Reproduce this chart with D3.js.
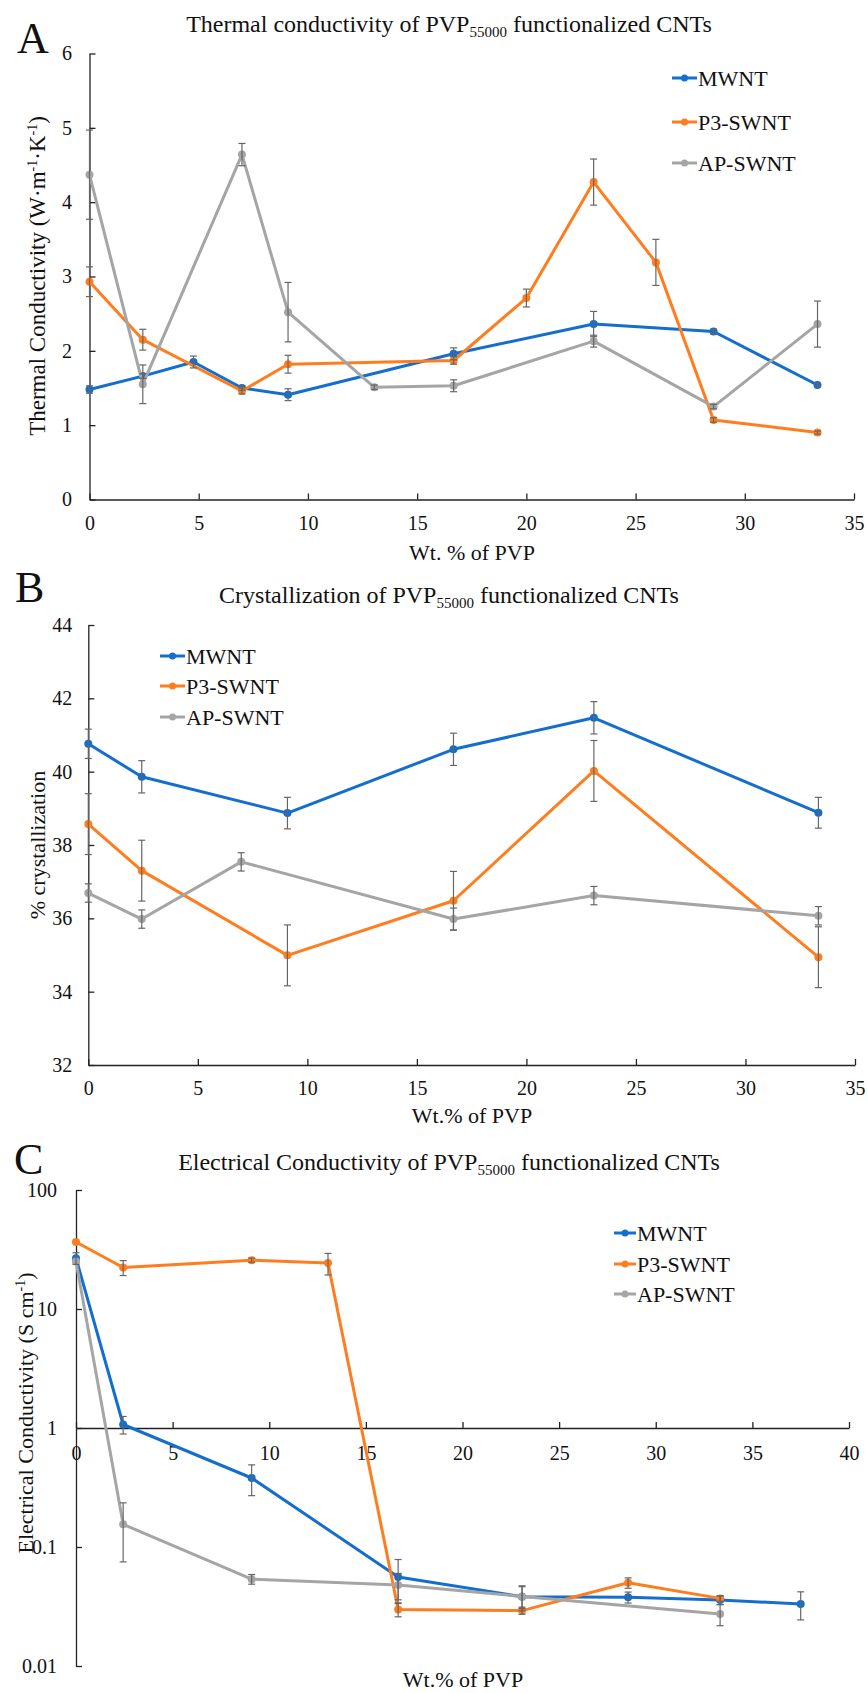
<!DOCTYPE html>
<html>
<head>
<meta charset="utf-8">
<script src="https://cdn.jsdelivr.net/npm/d3@7"></script>
<style>
  html, body { margin: 0; padding: 0; background: #fff; }
</style>
</head>
<body>
<svg id="chart" width="868" height="1693"></svg>
<script>
// ---------- DATA ----------
const seriesNames = ["MWNT", "P3-SWNT", "AP-SWNT"];

// Panel A: thermal conductivity
const thermalX = [0, 2.44, 4.76, 6.98, 9.09, 13.04, 16.67, 20, 23.08, 25.93, 28.57, 33.33];
const thermalMWNT = [1.48, 1.66, 1.85, 1.50, 1.41, null, 1.96, null, 2.36, null, 2.26, 1.54];
const thermalMWNTErr = [0.05, 0.03, 0.08, 0.03, 0.08, null, 0.08, null, 0.17, null, 0.03, 0.02];
const thermalP3 = [2.93, 2.15, null, 1.46, 1.82, null, 1.87, 2.71, 4.27, 3.19, 1.07, 0.90];
const thermalP3Err = [0.2, 0.14, null, 0.04, 0.12, null, 0.05, 0.12, 0.31, 0.31, 0.03, 0.02];
const thermalAP = [4.37, 1.55, null, 4.64, 2.52, 1.51, 1.53, null, 2.13, null, 1.25, 2.36];
const thermalAPErr = [0.6, 0.26, null, 0.15, 0.4, 0.03, 0.08, null, 0.08, null, 0.03, 0.31];
const thermalXTicks = [0, 5, 10, 15, 20, 25, 30, 35];
const thermalYTicks = [0, 1, 2, 3, 4, 5, 6];

// Panel B: crystallization
const crystX = [0, 2.44, 6.98, 9.09, 16.67, 23.08, 33.33];
const crystMWNT = [40.76, 39.86, null, 38.87, 40.61, 41.47, 38.88];
const crystMWNTErr = [0.4, 0.44, null, 0.43, 0.44, 0.44, 0.42];
const crystP3 = [38.57, 37.30, null, 34.99, 36.48, 40.02, 34.94];
const crystP3Err = [0.83, 0.83, null, 0.83, 0.8, 0.83, 0.83];
const crystAP = [36.69, 35.98, 37.54, null, 35.98, 36.62, 36.07];
const crystAPErr = [0.25, 0.25, 0.25, null, 0.3, 0.25, 0.25];
const crystXTicks = [0, 5, 10, 15, 20, 25, 30, 35];
const crystYTicks = [32, 34, 36, 38, 40, 42, 44];

// Panel C: electrical conductivity (log scale)
const elecX = [0, 2.44, 9.09, 13.04, 16.67, 23.08, 28.57, 33.33, 37.5];
const elecMWNT = [26.7, 1.07, 0.38, null, 0.056, 0.0382, 0.0378, 0.0358, 0.0332];
const elecMWNTErr = [3, 0.18, 0.11, null, 0.0225, 0.009, 0.004, 0.003, 0.0088];
const elecP3 = [36.6, 22.3, 25.7, 24.3, 0.0299, 0.0292, 0.050, 0.0370, null];
const elecP3Err = [0, 3.2, 1, 5, 0.004, 0.002, 0.005, 0.002, null];
const elecAP = [25.1, 0.155, 0.0537, null, 0.048, 0.0384, null, 0.0273, null];
const elecAPErr = [0, 0.08, 0.005, null, 0.012, 0.008, null, 0.0055, null];
const elecXTicks = [0, 5, 10, 15, 20, 25, 30, 35, 40];
const elecYTicks = [0.01, 0.1, 1, 10, 100];
const elecYTickLabels = ["0.01", "0.1", "1", "10", "100"];

const colors = ["#146ecd", "#ff7d1e", "#a5a5a5"];
const errColor = "#666";
const FONT = "Liberation Serif";

// ---------- DRAW ----------
const svg = d3.select("#chart");

function txt(sel) { return sel.style("font-family", FONT).attr("fill", "#111"); }

function buildSeries(xs, ys, errs) {
  return xs.map((x, i) => ({x, y: ys[i], e: errs[i]})).filter(d => d.y != null);
}

function titleText(g, x, y, pre, post) {
  const t = txt(g.append("text")).attr("x", x).attr("y", y).attr("text-anchor", "middle")
    .style("font-size", "24px");
  t.append("tspan").text(pre);
  t.append("tspan").attr("dy", 5).style("font-size", "15px").text("55000");
  t.append("tspan").attr("dy", -5).text(post);
}

function panel(cfg) {
  const g = svg.append("g");
  const x = d3.scaleLinear().domain(cfg.xDomain).range(cfg.xRange);
  const y = (cfg.log ? d3.scaleLog() : d3.scaleLinear()).domain(cfg.yDomain).range(cfg.yRange);

  // panel letter
  txt(g.append("text")).attr("x", cfg.letterPos[0]).attr("y", cfg.letterPos[1])
    .style("font-size", "44px").text(cfg.letter);
  // title
  titleText(g, cfg.titlePos[0], cfg.titlePos[1], cfg.titlePre, " functionalized CNTs");

  // axes
  const yAxis = d3.axisLeft(y).tickValues(cfg.yTicks).tickSizeInner(-6).tickSizeOuter(0)
    .tickPadding(cfg.yPad).tickFormat((d, i) => cfg.yLabels ? cfg.yLabels[i] : d);
  const gy = g.append("g").attr("transform", `translate(${cfg.xRange[0]},0)`).call(yAxis);
  const xAxisY = cfg.xAxisAt != null ? y(cfg.xAxisAt) : cfg.yRange[0];
  const xAxis = d3.axisBottom(x).tickValues(cfg.xTicks).tickSizeInner(-6).tickSizeOuter(0)
    .tickPadding(cfg.xPad);
  const gx = g.append("g").attr("transform", `translate(0,${xAxisY})`).call(xAxis);
  [gx, gy].forEach(a => {
    a.attr("font-family", FONT);
    a.select(".domain").attr("stroke", "#222").attr("stroke-width", 1.3);
    a.selectAll(".tick line").attr("stroke", "#222").attr("stroke-width", 1.3);
    txt(a.selectAll(".tick text")).style("font-size", "20px");
  });

  // axis labels
  txt(g.append("text")).attr("x", cfg.xLabelPos[0]).attr("y", cfg.xLabelPos[1])
    .attr("text-anchor", "middle").style("font-size", "22px").text(cfg.xLabel);
  const yl = txt(g.append("text"))
    .attr("transform", `translate(${cfg.yLabelPos[0]},${cfg.yLabelPos[1]}) rotate(-90)`)
    .attr("text-anchor", "middle").style("font-size", cfg.yLabelSize + "px");
  cfg.yLabelParts.forEach(p => {
    const ts = yl.append("tspan").text(p.t);
    if (p.sup) ts.attr("dy", -8).style("font-size", "14px");
    if (p.after) ts.attr("dy", 8);
  });

  const line = d3.line().x(d => x(d.x)).y(d => y(d.y));
  const data = cfg.series.map(s => buildSeries(cfg.xs, s.ys, s.errs));

  data.forEach((d, i) => {
    g.append("path").datum(d).attr("d", line).attr("fill", "none")
      .attr("stroke", colors[i]).attr("stroke-width", 3).attr("stroke-linejoin", "round");
    g.selectAll(null).data(d).enter().append("circle")
      .attr("cx", p => x(p.x)).attr("cy", p => y(p.y)).attr("r", 4).attr("fill", colors[i]);
  });
  // error bars
  data.forEach((d) => {
    d.filter(p => p.e > 0).forEach(p => {
      const top = y(p.y + p.e);
      const bot = y(cfg.log ? Math.max(p.y - p.e, 1e-4) : p.y - p.e);
      const cx = x(p.x);
      const eg = g.append("g").attr("stroke", errColor).attr("stroke-width", 1.2);
      eg.append("line").attr("x1", cx).attr("x2", cx).attr("y1", top).attr("y2", bot);
      eg.append("line").attr("x1", cx - 3.5).attr("x2", cx + 3.5).attr("y1", top).attr("y2", top);
      eg.append("line").attr("x1", cx - 3.5).attr("x2", cx + 3.5).attr("y1", bot).attr("y2", bot);
    });
  });

  // legend
  seriesNames.forEach((name, i) => {
    const ly = cfg.legendYs[i];
    const lx0 = cfg.legendX[0], lx1 = cfg.legendX[1];
    g.append("line").attr("x1", lx0).attr("x2", lx1).attr("y1", ly).attr("y2", ly)
      .attr("stroke", colors[i]).attr("stroke-width", 3);
    g.append("circle").attr("cx", (lx0 + lx1) / 2).attr("cy", ly).attr("r", 3.5).attr("fill", colors[i]);
    txt(g.append("text")).attr("x", lx1 + 1).attr("y", ly + 7.5).style("font-size", "22px").text(name);
  });
}

panel({
  letter: "A", letterPos: [17, 53],
  titlePre: "Thermal conductivity of PVP", titlePos: [449, 32],
  xDomain: [0, 35], xRange: [89.5, 854], yDomain: [0, 6], yRange: [499.5, 53.5],
  xTicks: thermalXTicks, yTicks: thermalYTicks, xPad: 16, yPad: 17.5,
  xLabel: "Wt. % of PVP", xLabelPos: [472, 560],
  yLabelParts: [{t: "Thermal Conductivity (W·m"}, {t: "-1", sup: true}, {t: "·K", after: true},
                {t: "-1", sup: true}, {t: ")", after: true}],
  yLabelPos: [45, 276], yLabelSize: 23,
  xs: thermalX,
  series: [{ys: thermalMWNT, errs: thermalMWNTErr}, {ys: thermalP3, errs: thermalP3Err},
           {ys: thermalAP, errs: thermalAPErr}],
  legendX: [672, 697], legendYs: [78, 122, 163]
});

panel({
  letter: "B", letterPos: [15, 602],
  titlePre: "Crystallization of PVP", titlePos: [449, 603],
  xDomain: [0, 35], xRange: [88.3, 855], yDomain: [32, 44], yRange: [1065, 625],
  xTicks: crystXTicks, yTicks: crystYTicks, xPad: 15.6, yPad: 16,
  xLabel: "Wt.% of PVP", xLabelPos: [472, 1123],
  yLabelParts: [{t: "% crystallization"}],
  yLabelPos: [45, 845], yLabelSize: 22,
  xs: crystX,
  series: [{ys: crystMWNT, errs: crystMWNTErr}, {ys: crystP3, errs: crystP3Err},
           {ys: crystAP, errs: crystAPErr}],
  legendX: [160, 185], legendYs: [656, 686, 717]
});

panel({
  letter: "C", letterPos: [14, 1174],
  titlePre: "Electrical Conductivity of PVP", titlePos: [449, 1170],
  xDomain: [0, 40], xRange: [76, 849], yDomain: [0.01, 100], yRange: [1666, 1190], log: true,
  xAxisAt: 1,
  xTicks: elecXTicks, yTicks: elecYTicks, yLabels: elecYTickLabels, xPad: 17.5, yPad: 19,
  xLabel: "Wt.% of PVP", xLabelPos: [463, 1687],
  yLabelParts: [{t: "Electrical Conductivity (S cm"}, {t: "-1", sup: true}, {t: ")", after: true}],
  yLabelPos: [33, 1413], yLabelSize: 22,
  xs: elecX,
  series: [{ys: elecMWNT, errs: elecMWNTErr}, {ys: elecP3, errs: elecP3Err},
           {ys: elecAP, errs: elecAPErr}],
  legendX: [614, 636], legendYs: [1233, 1264, 1294]
});
</script>
</body>
</html>
